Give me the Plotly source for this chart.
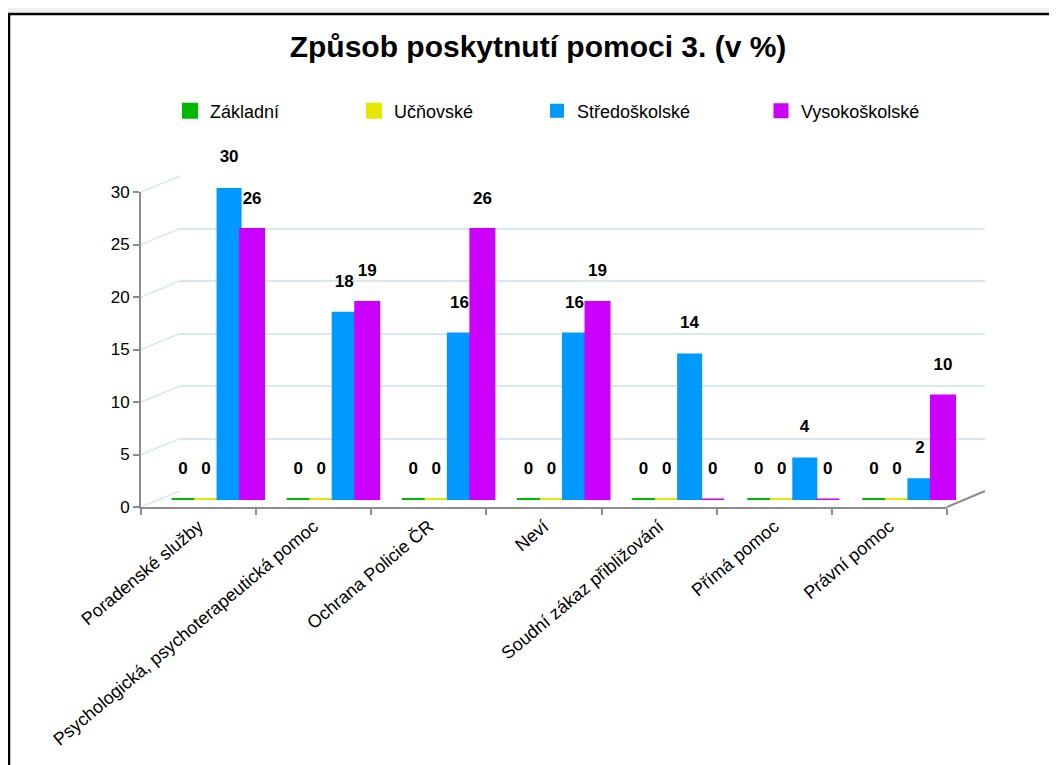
import plotly.graph_objects as go

W, H = 1057, 765
OFF = 8  # page body margin

categories = ["Poradenské služby", "Psychologická, psychoterapeutická pomoc", "Ochrana Policie ČR",
              "Neví", "Soudní zákaz přibližování", "Přímá pomoc", "Právní pomoc"]
zakladni = [0, 0, 0, 0, 0, 0, 0]
ucnovske = [0, 0, 0, 0, 0, 0, 0]
stredoskolske = [30, 18, 16, 16, 14, 4, 2]
vysokoskolske = [26, 19, 26, 19, 0, 0, 10]
series_names = ["Základní", "Učňovské", "Středoškolské", "Vysokoškolské"]
y_ticks = [0, 5, 10, 15, 20, 25, 30]

colors = ["#00b800", "#e6e600", "#0099ff", "#cc00ff"]
line_w = [4, 4, 2, 3]
legend_x = [170, 354, 537, 761]
FONT = "Liberation Sans, Arial, sans-serif"


def fx(px):
    return (px - OFF) / W


def fy(px):
    return 1 - (px - OFF) / H


# pixel geometry of the pseudo-3D layers (front axis, bars, back wall)
front_x = (141, 947)
front_y = (507, 192)
bar_x = (160, 966)
bar_y = (500, 188)
back_x = (180, 985)
back_y = (491, 176)

fig = go.Figure()

legend_ids = ["legend", "legend2", "legend3", "legend4"]
for name, vals, col, lw, lid in zip(series_names, [zakladni, ucnovske, stredoskolske, vysokoskolske],
                                    colors, line_w, legend_ids):
    fig.add_trace(go.Bar(
        x=categories, y=vals, name=name, legend=lid,
        marker=dict(color=col, line=dict(color=col, width=lw)),
        texttemplate="<b>%{y}</b><br><span style='font-size:4px'> </span>",
        textposition="outside", cliponaxis=False,
        textfont=dict(size=17, color="black", family=FONT),
        xaxis="x2", yaxis="y2",
    ))

# invisible traces to establish the back-wall and front axes
fig.add_trace(go.Scatter(x=categories, y=stredoskolske, mode="markers", marker=dict(opacity=0),
                         showlegend=False, hoverinfo="skip", xaxis="x", yaxis="y"))
fig.add_trace(go.Scatter(x=categories, y=stredoskolske, mode="markers", marker=dict(opacity=0),
                         showlegend=False, hoverinfo="skip", xaxis="x3", yaxis="y3"))

grid_col = "#d6e9f3"

shapes = []
for v in y_ticks:
    yf = front_y[0] + (front_y[1] - front_y[0]) * v / 30
    yb = back_y[0] + (back_y[1] - back_y[0]) * v / 30
    shapes.append(dict(type="line", xref="paper", yref="paper",
                       x0=fx(front_x[0]), y0=fy(yf), x1=fx(back_x[0]), y1=fy(yb),
                       line=dict(color=grid_col, width=1.5), layer="below"))
shapes.append(dict(type="line", xref="paper", yref="paper",
                   x0=fx(front_x[1]), y0=fy(front_y[0]), x1=fx(back_x[1]), y1=fy(back_y[0]),
                   line=dict(color="#8c8c8c", width=2)))
shapes.append(dict(type="rect", xref="paper", yref="paper", x0=0, x1=1, y0=fy(12), y1=1,
                   fillcolor="#f0f0f0", line=dict(width=0), layer="below"))
shapes.append(dict(type="rect", xref="paper", yref="paper", x0=fx(9), x1=fx(1075), y0=fy(800), y1=fy(14),
                   line=dict(color="black", width=2.5)))

legends = {}
for lid, lx in zip(legend_ids, legend_x):
    legends[lid] = dict(orientation="h", x=fx(lx), xanchor="left", y=fy(111), yanchor="middle",
                        font=dict(size=18, family=FONT, color="black"), itemwidth=30,
                        bgcolor="rgba(0,0,0,0)")

fig.update_layout(
    width=W, height=H, autosize=False,
    margin=dict(l=0, r=0, t=0, b=0, pad=0, autoexpand=False),
    paper_bgcolor="white", plot_bgcolor="rgba(0,0,0,0)",
    barmode="group", bargap=0.2, bargroupgap=0,
    font=dict(family=FONT, color="black"),
    title=dict(text="<b>Způsob poskytnutí pomoci 3. (v %)</b>", x=fx(538), xanchor="center",
               y=fy(46), yanchor="middle", xref="paper", yref="paper", automargin=False,
               font=dict(size=30, color="black", family=FONT)),
    showlegend=True,
    shapes=shapes,
    xaxis=dict(domain=[fx(back_x[0]), fx(back_x[1])], type="category", range=[-0.5, 6.5],
               showticklabels=False, showgrid=False, showline=False, zeroline=False, ticks="",
               automargin=False),
    yaxis=dict(domain=[fy(back_y[0]), fy(back_y[1])], range=[0, 30], tickvals=y_ticks,
               showticklabels=False, showgrid=True, gridcolor=grid_col, gridwidth=1.5,
               showline=False, zeroline=False, ticks="", anchor="x", automargin=False),
    xaxis2=dict(domain=[fx(bar_x[0]), fx(bar_x[1])], type="category", range=[-0.5, 6.5],
                showticklabels=False, showgrid=False, showline=False, zeroline=False, ticks="",
                anchor="y2", automargin=False),
    yaxis2=dict(domain=[fy(bar_y[0]), fy(bar_y[1])], range=[0, 30], showticklabels=False,
                showgrid=False, showline=False, zeroline=False, ticks="", anchor="x2",
                automargin=False),
    xaxis3=dict(domain=[fx(front_x[0]), fx(front_x[1])], type="category", range=[-0.5, 6.5],
                showline=True, linecolor="#8c8c8c", linewidth=2, ticks="outside", ticklen=6,
                tickcolor="#8c8c8c", tickwidth=2, tickson="boundaries", tickangle=-40,
                tickfont=dict(size=18, family=FONT, color="black"), showgrid=False, zeroline=False,
                anchor="y3", automargin=False),
    yaxis3=dict(domain=[fy(front_y[0]), fy(front_y[1])], range=[0, 30], tickvals=y_ticks,
                showline=True, linecolor="#8c8c8c", linewidth=2, ticks="outside", ticklen=6,
                tickcolor="#8c8c8c", tickwidth=2, showgrid=False, zeroline=False,
                tickfont=dict(size=17, family=FONT, color="black"), anchor="x3", automargin=False),
    **legends,
)

fig.write_html("out.html")
